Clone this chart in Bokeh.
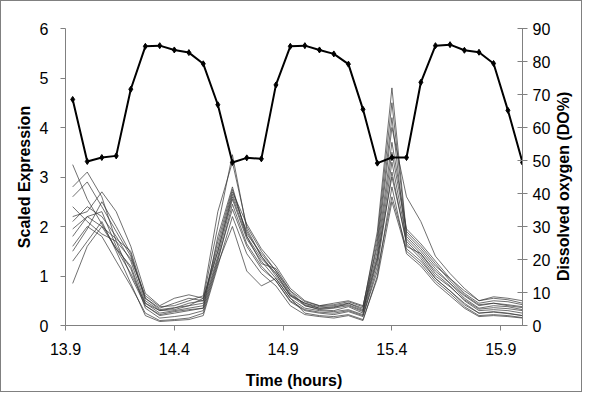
import math
from bokeh.plotting import figure
from bokeh.models import LinearAxis, Range1d, FixedTicker
from bokeh.embed import file_html
from bokeh.resources import INLINE

# Sample times (hours)
time_h = [13.933, 14.000, 14.067, 14.133, 14.200, 14.267, 14.333, 14.400,
          14.467, 14.533, 14.600, 14.667, 14.733, 14.800, 14.867, 14.933,
          15.000, 15.067, 15.133, 15.200, 15.267, 15.333, 15.400, 15.467,
          15.533, 15.600, 15.667, 15.733, 15.800, 15.867, 15.933, 16.000]

# Dissolved oxygen (DO%)
do_pct = [68.5, 49.7, 50.9, 51.4, 71.6, 84.6, 84.8, 83.5, 82.7, 79.3, 66.9,
          49.4, 50.8, 50.5, 72.9, 84.6, 84.8, 83.5, 82.3, 79.2, 65.5, 49.2,
          50.9, 50.9, 73.7, 84.8, 85.1, 83.4, 82.8, 79.4, 65.2, 49.4]

# Scaled expression profiles
expr_1 = [3.25, 2.55, 2.05, 1.55, 1.05, 0.45, 0.30, 0.32, 0.40, 0.55, 2.00, 3.45, 1.95, 1.40, 1.05, 0.62,
          0.45, 0.38, 0.40, 0.45, 0.35, 1.90, 4.80, 1.85, 1.55, 1.20, 0.95, 0.65, 0.45, 0.50, 0.48, 0.42]
expr_2 = [2.80, 3.10, 2.60, 1.70, 1.00, 0.40, 0.20, 0.25, 0.30, 0.35, 1.80, 2.80, 1.80, 1.25, 1.15, 0.70,
          0.40, 0.32, 0.30, 0.38, 0.25, 1.70, 4.20, 1.60, 1.45, 1.10, 0.85, 0.55, 0.35, 0.40, 0.38, 0.32]
expr_3 = [2.60, 2.90, 2.40, 1.90, 1.40, 0.55, 0.35, 0.45, 0.55, 0.50, 1.60, 2.70, 2.05, 1.55, 1.20, 0.75,
          0.50, 0.40, 0.45, 0.50, 0.40, 1.60, 4.00, 2.60, 2.10, 1.40, 1.05, 0.75, 0.50, 0.55, 0.52, 0.45]
expr_4 = [2.20, 2.30, 2.70, 2.30, 1.60, 0.65, 0.40, 0.55, 0.62, 0.55, 1.50, 2.65, 1.90, 1.40, 1.00, 0.60,
          0.45, 0.35, 0.38, 0.42, 0.30, 1.40, 3.50, 1.90, 1.60, 1.25, 0.90, 0.62, 0.42, 0.45, 0.40, 0.36]
expr_5 = [2.10, 2.40, 2.20, 1.80, 1.30, 0.45, 0.25, 0.30, 0.35, 0.40, 1.40, 2.55, 1.75, 1.30, 0.95, 0.55,
          0.35, 0.30, 0.28, 0.32, 0.22, 1.30, 3.30, 1.75, 1.45, 1.05, 0.80, 0.50, 0.30, 0.32, 0.30, 0.25]
expr_6 = [1.80, 2.20, 2.30, 1.60, 1.15, 0.35, 0.15, 0.18, 0.22, 0.30, 1.30, 2.45, 1.65, 1.20, 0.90, 0.48,
          0.30, 0.25, 0.22, 0.28, 0.18, 1.20, 3.10, 1.65, 1.35, 0.95, 0.70, 0.45, 0.25, 0.28, 0.25, 0.20]
expr_7 = [1.50, 1.95, 2.50, 2.00, 1.45, 0.50, 0.30, 0.35, 0.45, 0.50, 1.70, 2.75, 1.85, 1.45, 1.10, 0.65,
          0.42, 0.35, 0.36, 0.45, 0.32, 1.50, 3.70, 1.95, 1.65, 1.30, 0.95, 0.70, 0.50, 0.58, 0.55, 0.50]
expr_8 = [1.30, 1.70, 2.10, 1.50, 0.85, 0.20, 0.08, 0.10, 0.12, 0.20, 1.20, 2.20, 1.45, 1.05, 0.80, 0.40,
          0.22, 0.18, 0.15, 0.20, 0.10, 1.00, 2.80, 1.45, 1.20, 0.85, 0.60, 0.35, 0.18, 0.20, 0.18, 0.15]
expr_9 = [0.85, 1.60, 2.00, 1.55, 1.20, 0.40, 0.22, 0.28, 0.32, 0.35, 1.35, 2.35, 1.60, 1.15, 0.90, 0.50,
          0.32, 0.27, 0.25, 0.30, 0.20, 1.10, 2.60, 1.55, 1.30, 0.95, 0.70, 0.42, 0.25, 0.27, 0.24, 0.20]
expr_10 = [1.60, 2.00, 1.80, 1.30, 0.80, 0.25, 0.10, 0.12, 0.15, 0.25, 1.25, 2.00, 1.10, 0.80, 0.95, 0.55,
           0.25, 0.20, 0.18, 0.22, 0.12, 0.95, 2.50, 1.50, 1.25, 0.90, 0.65, 0.38, 0.20, 0.22, 0.20, 0.16]
expr_11 = [2.40, 2.10, 1.85, 1.70, 1.35, 0.60, 0.38, 0.40, 0.50, 0.60, 2.30, 3.30, 2.00, 1.50, 1.10, 0.70,
           0.48, 0.40, 0.42, 0.48, 0.38, 1.80, 4.50, 1.80, 1.50, 1.15, 0.85, 0.60, 0.40, 0.45, 0.42, 0.38]
expr_12 = [1.95, 2.20, 2.00, 1.75, 1.50, 0.55, 0.32, 0.36, 0.40, 0.45, 1.50, 2.60, 1.80, 1.35, 1.05, 0.60,
           0.40, 0.33, 0.35, 0.40, 0.28, 1.35, 3.00, 1.70, 1.40, 1.00, 0.78, 0.52, 0.33, 0.36, 0.34, 0.30]

expr_series = [expr_1, expr_2, expr_3, expr_4, expr_5, expr_6,
               expr_7, expr_8, expr_9, expr_10, expr_11, expr_12]

x_ticks = [13.9, 14.4, 14.9, 15.4, 15.9]
left_ticks = [0, 1, 2, 3, 4, 5, 6]
right_ticks = [0, 10, 20, 30, 40, 50, 60, 70, 80, 90]

FONT = "Liberation Sans"
AXIS_GRAY = "#808080"

W, H = 582, 392
ML, MR, MT, MB = 64, 56, 27, 68
p = figure(width=W, height=H, output_backend="svg", toolbar_location=None,
           x_range=Range1d(13.9, 16.0), y_range=Range1d(0, 6),
           min_border_left=ML, min_border_right=MR, min_border_top=MT, min_border_bottom=MB)
p.styles = {"border": "1px solid #808080"}
p.outline_line_color = None
p.xgrid.grid_line_color = None
p.ygrid.grid_line_color = None
p.background_fill_color = "white"
p.border_fill_color = "white"

p.extra_y_ranges = {"do": Range1d(0, 90)}

for s in expr_series:
    p.line(time_h, s, line_color="#383838", line_width=0.8, line_alpha=0.9)

p.line(time_h, do_pct, y_range_name="do", line_color="black", line_width=2)
p.scatter(time_h, do_pct, y_range_name="do", marker="diamond", size=6,
          fill_color="black", line_color="black")

def style_axis(ax):
    ax.axis_line_color = AXIS_GRAY
    ax.major_tick_line_color = AXIS_GRAY
    ax.minor_tick_line_color = None
    ax.major_label_text_font = FONT
    ax.major_label_text_font_size = "16px"
    ax.major_label_text_color = "black"
    ax.axis_label_text_font = FONT
    ax.axis_label_text_font_size = "16px"
    ax.axis_label_text_font_style = "bold"
    ax.axis_label_text_color = "black"

xa = p.xaxis[0]
xa.ticker = FixedTicker(ticks=x_ticks)
xa.axis_label = "Time (hours)"
style_axis(xa)
xa.major_tick_in = 0
xa.major_tick_out = 5
xa.major_label_standoff = 12
xa.axis_label_standoff = 14

ya = p.yaxis[0]
ya.ticker = FixedTicker(ticks=left_ticks)
ya.axis_label = "Scaled Expression"
style_axis(ya)
ya.major_tick_in = 0
ya.major_tick_out = 5
ya.major_label_standoff = 12
ya.axis_label_standoff = 4

# Right axis: label reads bottom-to-top, anchored near the axis start
ra = LinearAxis(y_range_name="do",
                axis_label="\u00a0" * 10 + "Dissolved oxygen (DO%)")
ra.ticker = FixedTicker(ticks=right_ticks)
style_axis(ra)
ra.major_tick_in = 5
ra.major_tick_out = 5
ra.major_label_standoff = 5
ra.axis_label_standoff = 10
ra.axis_label_orientation = math.pi / 2
ra.axis_label_align = "start"
p.add_layout(ra, "right")

open("out.html", "w").write(file_html(p, INLINE))
